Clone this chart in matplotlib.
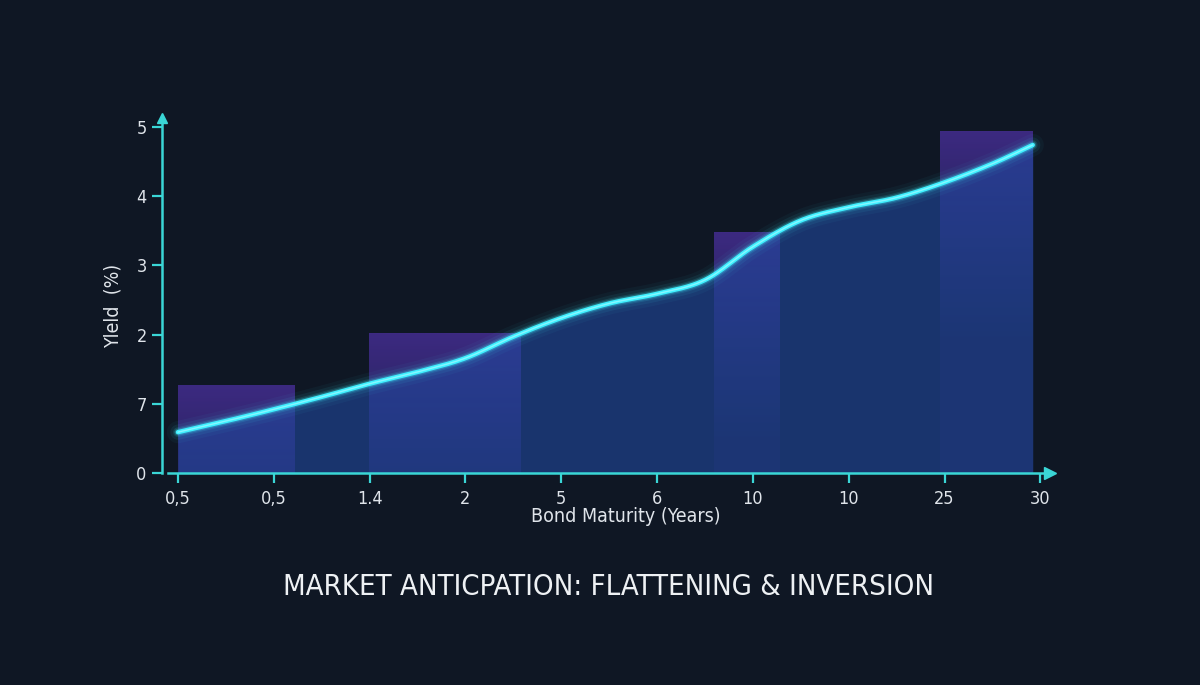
import numpy as np
import matplotlib.pyplot as plt
from matplotlib.colors import to_rgb

# data
tick_labels = ['0,5', '0,5', '1.4', '2', '5', '6', '10', '10', '25', '30']
y_ticks = [0, 1, 2, 3, 4, 5]
y_tick_labels = ['0', '7', '2', '3', '4', '5']

# curve samples, x in tick-index units
curve_pos = [0, 0.5, 1, 1.5, 2, 2.5, 3, 3.5, 4, 4.5, 5, 5.5, 6, 6.5, 7, 7.5, 8, 8.5, 8.92]
curve_yield = [0.59, 0.75, 0.92, 1.10, 1.29, 1.46, 1.66, 1.97, 2.24, 2.45, 2.59, 2.79,
               3.27, 3.65, 3.84, 3.98, 4.20, 4.47, 4.74]

# purple step bars behind the curve
bar_start = [0.0, 1.99, 5.59, 7.95]
bar_width = [1.22, 1.58, 0.68, 0.97]
bar_height = [1.26, 2.01, 3.48, 4.93]

BG = '#0f1724'
CYAN = '#3ff0ff'
AXIS = '#3ad6d6'
TEXT = '#dfe4ea'

plt.rcParams['font.family'] = ['DejaVu Sans']
plt.rcParams['font.stretch'] = 'condensed'


def catmull_rom(xs, ys, n=24):
    # smooth line through the read points
    xs = np.asarray(xs, float)
    ys = np.asarray(ys, float)
    px = np.concatenate([[2 * xs[0] - xs[1]], xs, [2 * xs[-1] - xs[-2]]])
    py = np.concatenate([[2 * ys[0] - ys[1]], ys, [2 * ys[-1] - ys[-2]]])
    out_x, out_y = [], []
    t = np.linspace(0, 1, n, endpoint=False)
    for i in range(1, len(px) - 2):
        for arr, out in ((px, out_x), (py, out_y)):
            p0, p1, p2, p3 = arr[i - 1], arr[i], arr[i + 1], arr[i + 2]
            out.extend(0.5 * ((2 * p1) + (-p0 + p2) * t +
                              (2 * p0 - 5 * p1 + 4 * p2 - p3) * t ** 2 +
                              (-p0 + 3 * p1 - 3 * p2 + p3) * t ** 3))
    out_x.append(xs[-1])
    out_y.append(ys[-1])
    return np.array(out_x), np.array(out_y)


fig = plt.figure(figsize=(12, 6.85), dpi=100, facecolor=BG)
ax = fig.add_axes([162 / 1200, (685 - 473) / 685, 888 / 1200, 355 / 685])
ax.set_facecolor(BG)
ax.set_xlim(-0.166, 9.1)
ax.set_ylim(0, 5.13)

# bars: purple on top, fading out slowly downwards
top_c = np.array(to_rgb('#3d2a82'))
bot_c = np.array(to_rgb('#303080'))
for x0, w, h in zip(bar_start, bar_width, bar_height):
    ys = np.linspace(h, 0, 128)
    g = np.clip((h - ys) / 3.0, 0, 1)
    rgba = np.zeros((128, 2, 4))
    rgba[..., :3] = (top_c * (1 - g[:, None]) + bot_c * g[:, None])[:, None, :]
    rgba[..., 3] = np.clip(1 - 0.8 * g, 0.2, 1)[:, None]
    ax.imshow(rgba, extent=(x0, x0 + w, 0, h), aspect='auto', zorder=1,
              interpolation='bilinear')

# area under the curve
sx, sy = catmull_rom(curve_pos, curve_yield)
ax.fill_between(sx, 0, sy, color='#21489f', alpha=0.6, lw=0, zorder=2)

# glowing line
for lw, a in [(16, 0.04), (11, 0.07), (7, 0.12), (5, 0.25)]:
    ax.plot(sx, sy, color=CYAN, lw=lw, alpha=a, solid_capstyle='round', zorder=3)
ax.plot(sx, sy, color=CYAN, lw=3.2, solid_capstyle='round', zorder=4)
ax.plot(sx, sy, color='#b8fbff', lw=1.0, alpha=0.6, solid_capstyle='round', zorder=4)

# axes styling
for s in ['top', 'right']:
    ax.spines[s].set_visible(False)
for s in ['left', 'bottom']:
    ax.spines[s].set_color(AXIS)
    ax.spines[s].set_linewidth(1.8)
    ax.spines[s].set_zorder(5)
ax.spines['bottom'].set_bounds(-0.1, 9.1)
ax.plot(1, 0, marker='>', color=AXIS, ms=8, transform=ax.transAxes, clip_on=False, zorder=6)
ax.plot(0, 1, marker='^', color=AXIS, ms=7, transform=ax.transAxes, clip_on=False, zorder=6)

ax.set_xticks(range(len(tick_labels)))
ax.set_xticklabels(tick_labels)
ax.set_yticks(y_ticks)
ax.set_yticklabels(y_tick_labels)
ax.tick_params(axis='both', colors=AXIS, labelcolor=TEXT, labelsize=13, width=1.6, length=7)
ax.tick_params(axis='x', pad=5)
ax.tick_params(axis='y', pad=4)

ax.set_xlabel('Bond Maturity (Years)', color=TEXT, fontsize=14)
ax.xaxis.set_label_coords(0.522, -0.095)
ax.set_ylabel('Yleld  (%)', color=TEXT, fontsize=14)
ax.yaxis.set_label_coords(-0.045, 0.47)

fig.text(0.507, 1 - 587 / 685, 'MARKET ANTICPATION: FLATTENING & INVERSION', color='#eef1f4',
         fontsize=21, ha='center', va='center')

fig.savefig('out.png', dpi=100, facecolor=BG)
